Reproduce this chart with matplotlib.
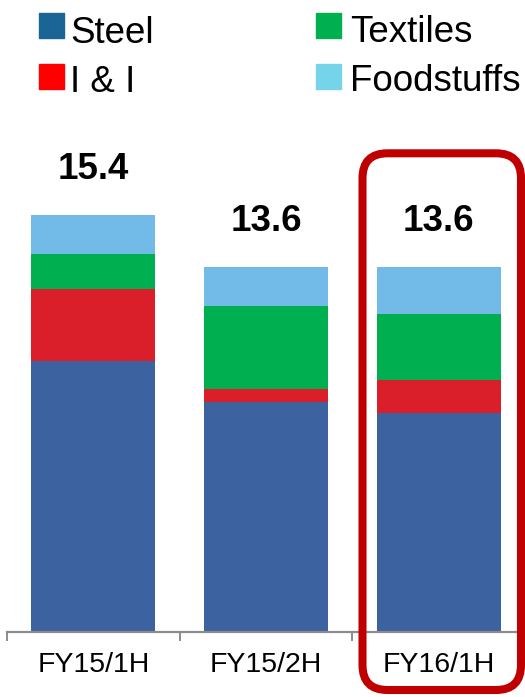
import matplotlib
matplotlib.use('Agg')
import matplotlib.pyplot as plt
from matplotlib.patches import Rectangle, FancyBboxPatch

plt.rcParams['font.family'] = ['Liberation Sans', 'DejaVu Sans']

periods = ['FY15/1H', 'FY15/2H', 'FY16/1H']
steel = [10.0, 8.49, 8.09]
i_and_i = [2.65, 0.50, 1.22]
textiles = [1.31, 3.05, 2.42]
foodstuffs = [1.43, 1.43, 1.73]
totals = ['15.4', '13.6', '13.6']

series = [('Steel', steel, '#3D62A0', '#1A6496'),
          ('I & I', i_and_i, '#DA1F2A', '#FF0000'),
          ('Textiles', textiles, '#00AF50', '#00AF50'),
          ('Foodstuffs', foodstuffs, '#72BAE8', '#76D4EA')]

fig = plt.figure(figsize=(5.25, 6.97), dpi=100)
ax = fig.add_axes([7 / 525, 64.7 / 697, 518 / 525, 515 / 697])

x = list(range(len(periods)))
bottom = [0.0] * len(periods)
for name, vals, col, _ in series:
    ax.bar(x, vals, 0.718, bottom=bottom, color=col, edgecolor='none')
    bottom = [b + v for b, v in zip(bottom, vals)]

for xi, top, lab in zip(x, bottom, totals):
    ax.annotate(lab, (xi, top), xytext=(0, 33), textcoords='offset points',
                ha='center', va='center', fontsize=26.5, fontweight='bold')

ax.set_xlim(-0.5, 2.5)
ax.set_ylim(0, 19)
for s in ['top', 'left', 'right']:
    ax.spines[s].set_visible(False)
ax.spines['bottom'].set_color('#8c8c8c')
ax.spines['bottom'].set_linewidth(1.6)
ax.set_yticks([])
ax.set_xticks([-0.5, 0.5, 1.5, 2.5])
ax.set_xticklabels([])
ax.tick_params(axis='x', which='major', length=6.8, width=1.4, color='#8c8c8c')
ax.set_xticks(x, minor=True)
ax.set_xticklabels(periods, minor=True, fontsize=20.5)
ax.tick_params(axis='x', which='minor', length=0, pad=14)

# legend drawn by hand (legend colours differ from the bars)
legend_pos = [(0.39, 6.59, 0.70, 6.54), (0.39, 6.08, 0.70, 6.05),
              (3.16, 6.59, 3.50, 6.55), (3.16, 6.08, 3.50, 6.06)]
for (name, _, _, lcol), (sx, sy, tx, ty) in zip(series, legend_pos):
    fig.patches.append(Rectangle((sx, sy), 0.245, 0.245, color=lcol,
                                 transform=fig.dpi_scale_trans, figure=fig))
    fig.text(tx, ty, name, fontsize=26.5, ha='left', va='baseline',
             transform=fig.dpi_scale_trans)

# highlight box around the latest period
box = FancyBboxPatch((3.625, 0.07), 1.585, 5.367,
                     boxstyle='round,pad=0,rounding_size=0.25',
                     fill=False, edgecolor='#C00000', linewidth=5.8,
                     transform=fig.dpi_scale_trans, figure=fig, zorder=5)
fig.patches.append(box)

fig.savefig('out.png', dpi=100)
